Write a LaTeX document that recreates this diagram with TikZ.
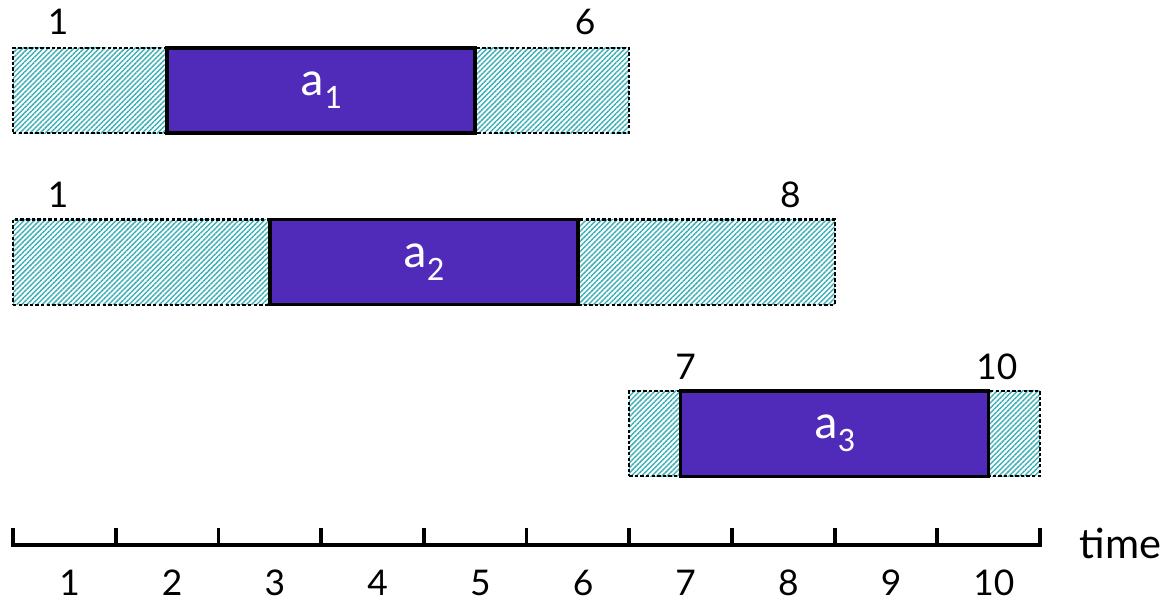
\documentclass[tikz,border=0pt]{standalone}
\usepackage{fontspec}
\setmainfont{Carlito}
\newfontfamily\numfont{Lato}
\usetikzlibrary{patterns.meta,positioning}
\definecolor{actA}{RGB}{80,42,185}
\definecolor{slackA}{RGB}{60,175,182}
\newcommand{\actname}[1]{a\raisebox{-3.6pt}{\fontsize{9.5}{10}\selectfont #1}}

\tikzset{
  slackbox/.style={draw, dash pattern=on 0.95pt off 0.6pt, line width=0.6pt, anchor=south west,
    pattern={Lines[angle=45, distance=1pt, line width=0.4pt]}, pattern color=slackA,
    minimum height=0.83cm, inner sep=0pt, outer sep=0pt},
  actbox/.style={draw, line width=0.95pt, fill=actA, text=white, anchor=south west,
    minimum width=3cm, minimum height=0.83cm, inner sep=0pt, outer sep=0pt,
    font=\fontsize{13.5}{16}\selectfont},
  numlabel/.style={font=\numfont\fontsize{9.8}{11}\selectfont, inner sep=0pt},
  axisline/.style={line width=1.05pt}
}

\begin{document}
\begin{tikzpicture}
  \useasboundingbox (-0.127,-0.555) rectangle (11.178,5.307);
  % Activity a1
  \node[slackbox, minimum width=6cm] (w1) at (0, 4.01) {};
  \node[actbox] (a1) at (1.5, 4.01) {\actname{1}};
  \node[numlabel] (s1) at (0.44, 5.09) {1};
  \node[numlabel] (f1) at (5.57, 5.09) {6};
  % Activity a2
  \node[slackbox, minimum width=8cm] (w2) at (0, 2.34) {};
  \node[actbox] (a2) at (2.5, 2.34) {\actname{2}};
  \node[numlabel] (s2) at (0.44, 3.41) {1};
  \node[numlabel] (f2) at (7.57, 3.41) {8};
  % Activity a3
  \node[slackbox, minimum width=4cm] (w3) at (6, 0.67) {};
  \node[actbox] (a3) at (6.5, 0.67) {\actname{3}};
  \node[numlabel] (s3) at (6.55, 1.74) {7};
  \node[numlabel] (f3) at (9.58, 1.74) {10};
  % Time axis
  \draw[axisline] (0, 0.17) -- (0, 0) -- (10, 0) coordinate (tend) -- (10, 0.17);
  \foreach \i in {1,...,9}
    \draw[axisline] (\i, 0) -- (\i, 0.17);
  \foreach \i in {1,...,10}
    \node[numlabel] (t\i) at (\i-0.45, -0.37) {\i};
  \node[numlabel, font=\numfont\fontsize{11.5}{13}\selectfont, anchor=west] (time) at (10.38, 0.02) {time};
\end{tikzpicture}
\end{document}
